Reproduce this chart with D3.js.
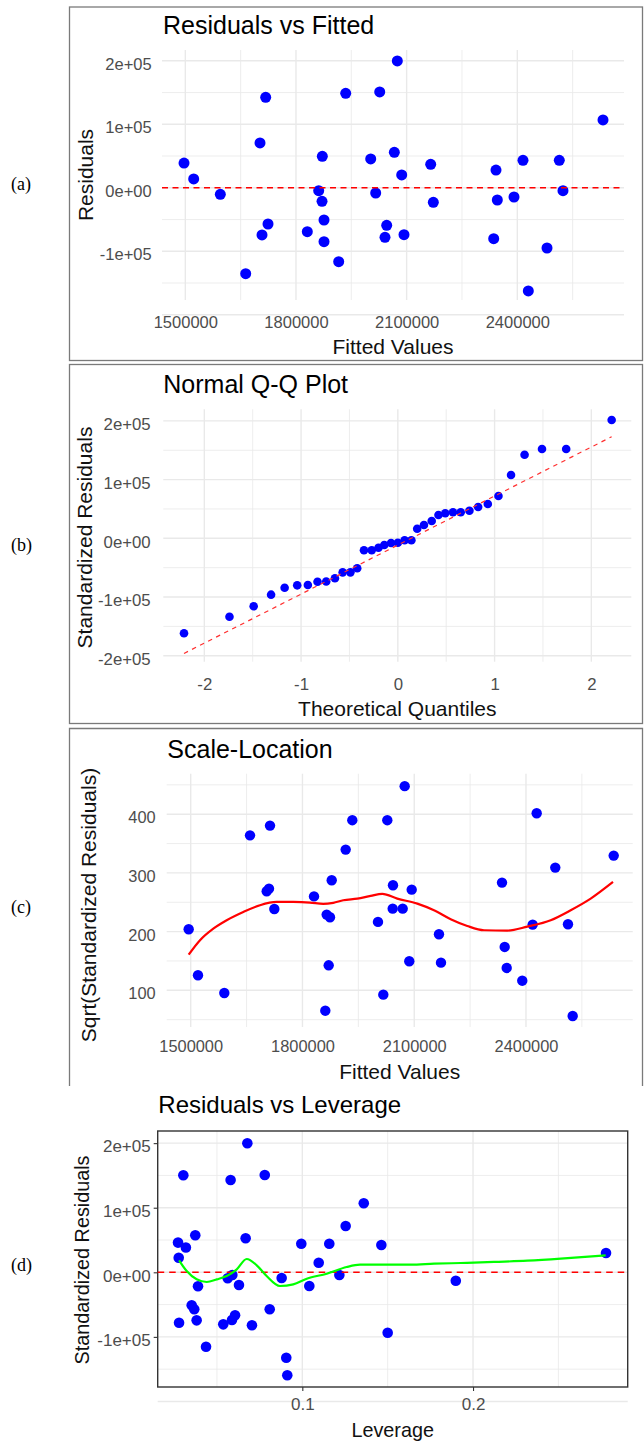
<!DOCTYPE html>
<html><head><meta charset="utf-8">
<script src="https://cdn.jsdelivr.net/npm/d3@7"></script>
<style>body{margin:0;background:#fff}svg{display:block}</style>
</head><body><svg id="chart" width="644" height="1441"></svg>
<script>
// ---------- DATA ----------
// (a) Residuals vs Fitted
const fittedA = [1496500,1522700,1594900,1663700,1702500,1717900,1707900,1724200,1830700,1861600,1871400,1870600,1876000,1876000,1915800,1934800,2027000,2074700,2002600,2016100,2066600,2086600,2045900,2041300,2092800,2165200,2172300,2342200,2345800,2336000,2391000,2415400,2429800,2480500,2513800,2523800,2632300];
const residA = [39000,13900,-10200,-135300,70600,142500,-74300,-57000,-69100,-4600,49600,-21300,-50700,-84900,-116400,148800,150900,199700,45400,-8200,55900,20200,-59100,-78000,-73800,37000,-22800,28000,-19200,-80200,-14500,43300,-162500,-94800,43300,-4600,106800];

// (b) Normal Q-Q
const qqTheo = [-2.21,-1.74,-1.49,-1.31,-1.17,-1.04,-0.93,-0.83,-0.74,-0.65,-0.57,-0.49,-0.42,-0.35,-0.27,-0.20,-0.14,-0.07,0,0.07,0.14,0.20,0.27,0.35,0.42,0.49,0.57,0.65,0.74,0.83,0.93,1.04,1.17,1.31,1.49,1.74,2.21];
const qqSample = [-161800,-133500,-115800,-96000,-84100,-80100,-79600,-73900,-73600,-68100,-58000,-58000,-51000,-20400,-20400,-16000,-11400,-8000,-7500,-3400,-3400,16400,22700,29500,39700,42600,44300,44300,47000,53300,58400,72100,107800,142400,152100,152100,201500];
const qqLineX = [-2.21, 2.21];
const qqLineY = [-196100, 173100];

// (c) Scale-Location
const fittedC = [1494600,1519600,1590200,1659200,1712900,1704000,1710200,1724500,1831000,1865000,1873900,1878500,1870400,1861300,1916000,1933800,2074400,2027700,2002700,2017000,2043000,2042200,2069000,2093200,2086700,2166400,2171800,2335600,2342800,2348200,2390000,2417900,2428700,2478600,2512700,2525300,2635400];
const sqrtResC = [204,125.6,95.4,364,380.6,268.8,273.2,238.6,260,229,224.4,287.5,142.6,65.3,339.7,389.8,447.8,389.8,216.5,92.6,279,239.1,239.1,271.5,149.5,195.5,147.1,283.5,173.9,138.1,116.4,211.9,401.7,309,212.5,56.2,329.5];
const smoothCx = [1494600,1525000,1560700,1596600,1641200,1686000,1730800,1775400,1820200,1855900,1882700,1909600,1947200,1983100,2014300,2054500,2108200,2153000,2197900,2242400,2287300,2349800,2403500,2466300,2520000,2573600,2633500];
const smoothCy = [160.7,185.3,205,219.4,233.5,245,250.6,250.6,249.5,247.1,249,253.4,256.2,260.8,264.2,256.2,247.7,236.4,221.1,209.6,202.3,201.6,208.5,219.4,236.4,256.2,284.6];

// (d) Residuals vs Leverage
const leverageD = [0.0272,0.0318,0.0276,0.0303,0.0373,0.0278,0.0389,0.0352,0.0367,0.0381,0.0436,0.0537,0.0563,0.0590,0.0580,0.0629,0.0606,0.0588,0.0678,0.0668,0.0705,0.0780,0.0809,0.0879,0.0906,0.0912,0.0994,0.1041,0.1096,0.1158,0.1254,0.1217,0.1360,0.1463,0.1500,0.1899,0.2779];
const residD = [46000,38500,22600,150200,57300,-78000,-21700,-51100,-57300,-74400,-115200,-80600,-9300,-4200,142900,-19700,-66600,-73900,199800,52700,-82100,150700,-57300,-8800,-132200,-159500,44300,-21200,14900,44300,71700,-4200,106900,42300,-93500,-13000,29900];
const smoothDx = [0.0278,0.0323,0.0381,0.0440,0.0499,0.0557,0.0616,0.0674,0.0733,0.0791,0.0869,0.0947,0.1026,0.1143,0.1260,0.1338,0.1439,0.1635,0.1772,0.1928,0.2123,0.2318,0.2514,0.2777];
const smoothDy = [18600,2000,-10900,-15000,-10900,-5700,4600,20600,10800,-5700,-21200,-18600,-9900,-2200,8200,11800,11800,11800,13300,14400,16000,18000,21100,26300];

// ticks
const fittedTicks = [1500000,1800000,2100000,2400000];
const fittedTickLabels = ["1500000","1800000","2100000","2400000"];
const fittedMinor = [1650000,1950000,2250000,2550000];
const resTicks = [-200000,-100000,0,100000,200000];
const resTickLabels = ["-2e+05","-1e+05","0e+00","1e+05","2e+05"];
const resMinor = [-150000,-50000,50000,150000];
const qqTicks = [-2,-1,0,1,2];
const qqTickLabels = ["-2","-1","0","1","2"];
const qqMinor = [-1.5,-0.5,0.5,1.5];
const sqrtTicks = [100,200,300,400];
const sqrtTickLabels = ["100","200","300","400"];
const sqrtMinor = [50,150,250,350,450];
const levTicks = [0.1,0.2];
const levTickLabels = ["0.1","0.2"];
const levMinor = [0.05,0.15,0.25];

const titles = ["Residuals vs Fitted","Normal Q-Q Plot","Scale-Location","Residuals vs Leverage"];
const xTitles = ["Fitted Values","Theoretical Quantiles","Fitted Values","Leverage"];
const yTitles = ["Residuals","Standardized Residuals","Sqrt(Standardized Residuals)","Standardized Residuals"];
const panelTags = ["(a)","(b)","(c)","(d)"];

// ---------- DRAW ----------
const svg = d3.select("#chart");
const SANS = "'Liberation Sans', Arial, Helvetica, sans-serif";
const SERIF = "'Liberation Serif', 'Times New Roman', serif";

// outer frames of panels a-c
svg.append("rect").attr("x",69.5).attr("y",7).attr("width",573).attr("height",353.5)
  .attr("fill","none").attr("stroke","#7a7a7a").attr("stroke-width",1.3);
svg.append("rect").attr("x",69.5).attr("y",364.5).attr("width",573).attr("height",359)
  .attr("fill","none").attr("stroke","#7a7a7a").attr("stroke-width",1.3);
svg.append("path").attr("d","M69.5,1086V728.5H642.5V1086")
  .attr("fill","none").attr("stroke","#7a7a7a").attr("stroke-width",1.3);

function pick(vals, labels){ return d => labels[vals.indexOf(d)]; }

function panel(c){
  const x = d3.scaleLinear().domain(c.xDomain).range([c.left, c.right]);
  const y = d3.scaleLinear().domain(c.yDomain).range([c.bottom, c.top]);
  const g = svg.append("g");
  const grid = g.append("g");
  const grey = "#e9e9e9";
  grid.selectAll(null).data(c.xMinor).join("line")
    .attr("x1",d=>x(d)).attr("x2",d=>x(d)).attr("y1",c.top).attr("y2",c.bottom)
    .attr("stroke",grey).attr("stroke-width",0.8);
  grid.selectAll(null).data(c.yMinor).join("line")
    .attr("y1",d=>y(d)).attr("y2",d=>y(d)).attr("x1",c.left).attr("x2",c.right)
    .attr("stroke",grey).attr("stroke-width",0.8);
  grid.selectAll(null).data(c.xTicks).join("line")
    .attr("x1",d=>x(d)).attr("x2",d=>x(d)).attr("y1",c.top).attr("y2",c.bottom)
    .attr("stroke",grey).attr("stroke-width",1.4);
  grid.selectAll(null).data(c.yTicks).join("line")
    .attr("y1",d=>y(d)).attr("y2",d=>y(d)).attr("x1",c.left).attr("x2",c.right)
    .attr("stroke",grey).attr("stroke-width",1.4);

  // axes (labels)
  const ax = d3.axisBottom(x).tickValues(c.xTicks).tickFormat(pick(c.xTicks,c.xLabels))
    .tickSize(c.tick).tickPadding(c.xPad);
  const gx = g.append("g").attr("transform",`translate(0,${c.bottom})`).call(ax);
  const ay = d3.axisLeft(y).tickValues(c.yTicks.filter(v=>v>=c.yDomain[0]&&v<=c.yDomain[1]))
    .tickFormat(pick(c.yTicks,c.yLabels)).tickSize(c.tick).tickPadding(c.yPad);
  const gy = g.append("g").attr("transform",`translate(${c.left},0)`).call(ay);
  [gx,gy].forEach(a=>{
    a.select(".domain").remove();
    a.selectAll("text").attr("fill","#4d4d4d").style("font-family",SANS).style("font-size",c.tickFs+"px");
    a.selectAll("line").attr("stroke","#333").attr("stroke-width",1.1);
    if(!c.tick) a.selectAll("line").remove();
  });
  gy.selectAll("text").attr("dy","0.52em");

  if(c.border){
    g.append("rect").attr("x",c.left).attr("y",c.top).attr("width",c.right-c.left).attr("height",c.bottom-c.top)
      .attr("fill","none").attr("stroke","#333").attr("stroke-width",1.4);
  }

  // title
  g.append("text").attr("x",c.titleX).attr("y",c.titleY).text(c.title)
    .style("font-family",SANS).style("font-size",c.titleFs+"px").attr("fill","#000");
  g.append("text").attr("x",(c.left+c.right)/2).attr("y",c.xTitleY).attr("text-anchor","middle")
    .text(c.xTitle).style("font-family",SANS).style("font-size",c.axFs+"px").attr("fill","#111");
  g.append("text").attr("transform",`translate(${c.yTitleX},${c.yTitleY}) rotate(-90)`).attr("text-anchor","middle")
    .text(c.yTitle).style("font-family",SANS).style("font-size",c.axFs+"px").attr("fill","#111");
  // tag
  svg.append("text").attr("x",11).attr("y",c.tagY).text(c.tag)
    .style("font-family",SERIF).style("font-size","18px").attr("fill","#000");
  return {g,x,y};
}

function dots(p, xs, ys, r){
  p.g.append("g").selectAll("circle").data(xs.map((v,i)=>[v,ys[i]])).join("circle")
    .attr("cx",d=>p.x(d[0])).attr("cy",d=>p.y(d[1])).attr("r",r).attr("fill","#0000ff");
}
function hline(p, v, w, dash){
  const [x0,x1] = p.x.range();
  p.g.append("line").attr("x1",x0).attr("x2",x1).attr("y1",p.y(v)).attr("y2",p.y(v))
    .attr("stroke","#ff0000").attr("stroke-width",w).attr("stroke-dasharray",dash);
}
function curve(p, xs, ys, color, w, dash, cv){
  const line = d3.line().x(d=>p.x(d[0])).y(d=>p.y(d[1])).curve(cv||d3.curveLinear);
  const path = p.g.append("path").attr("d",line(xs.map((v,i)=>[v,ys[i]])))
    .attr("fill","none").attr("stroke",color).attr("stroke-width",w).attr("stroke-linejoin","round");
  if(dash) path.attr("stroke-dasharray",dash);
}

// (a)
const pA = panel({left:162,right:624,top:50,bottom:300,xDomain:[1436800,2689200],yDomain:[-176700,217000],
  xTicks:fittedTicks,xLabels:fittedTickLabels,xMinor:fittedMinor,yTicks:resTicks,yLabels:resTickLabels,yMinor:resMinor,
  tick:0,xPad:16.3,yPad:10.3,tickFs:16.5,title:titles[0],titleX:163,titleY:34,titleFs:25,
  xTitle:xTitles[0],xTitleY:354,yTitle:yTitles[0],yTitleX:93,yTitleY:175,axFs:21,tag:panelTags[0],tagY:190});
dots(pA, fittedA, residA, 5.5);
hline(pA, 0, 1.5, "6,4.5");

// (b)
const pB = panel({left:163.3,right:631.3,top:409.3,bottom:661.7,xDomain:[-2.424,2.413],yDomain:[-210200,219800],
  xTicks:qqTicks,xLabels:qqTickLabels,xMinor:qqMinor,yTicks:resTicks,yLabels:resTickLabels,yMinor:resMinor,
  tick:0,xPad:16.3,yPad:12.6,tickFs:16.8,title:titles[1],titleX:163.3,titleY:393.3,titleFs:25,
  xTitle:xTitles[1],xTitleY:716,yTitle:yTitles[1],yTitleX:91.5,yTitleY:537.5,axFs:21,tag:panelTags[1],tagY:551});
dots(pB, qqTheo, qqSample, 4.3);
curve(pB, qqLineX, qqLineY, "#ff3030", 1.2, "4.5,4.5");

// (c)
const pC = panel({left:166.7,right:632.7,top:773.7,bottom:1027,xDomain:[1435600,2686400],yDomain:[37.5,469],
  xTicks:fittedTicks,xLabels:fittedTickLabels,xMinor:fittedMinor,yTicks:sqrtTicks,yLabels:sqrtTickLabels,yMinor:sqrtMinor,
  tick:0,xPad:13.3,yPad:11,tickFs:16.4,title:titles[2],titleX:167.3,titleY:758,titleFs:25,
  xTitle:xTitles[2],xTitleY:1078.7,yTitle:yTitles[2],yTitleX:96,yTitleY:905,axFs:21,tag:panelTags[2],tagY:913});
dots(pC, fittedC, sqrtResC, 5.2);
curve(pC, smoothCx, smoothCy, "#ff0000", 2.2, null, d3.curveMonotoneX);

// (d)
const pD = panel({left:157.7,right:627.7,top:1131,bottom:1387,xDomain:[0.01529,0.2906],yDomain:[-177600,218800],
  xTicks:levTicks,xLabels:levTickLabels,xMinor:levMinor,yTicks:resTicks,yLabels:resTickLabels,yMinor:resMinor,
  tick:4,xPad:6.9,yPad:3,tickFs:17,title:titles[3],titleX:158.3,titleY:1112.7,titleFs:24,border:true,
  xTitle:xTitles[3],xTitleY:1437,yTitle:yTitles[3],yTitleX:89.3,yTitleY:1260,axFs:19.8,tag:panelTags[3],tagY:1271});
dots(pD, leverageD, residD, 5.3);
hline(pD, 0, 1.5, "6.5,5");
curve(pD, smoothDx, smoothDy, "#00ff00", 2.2, null, d3.curveMonotoneX);
</script></body></html>
